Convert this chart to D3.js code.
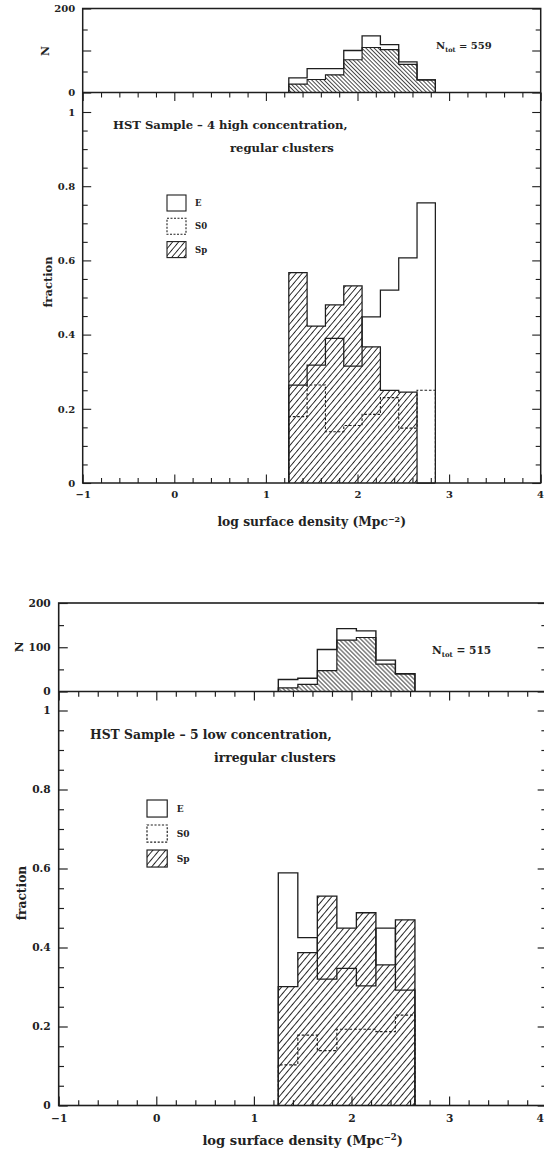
<!DOCTYPE html>
<html>
<head>
<meta charset="utf-8">
<script src="https://cdn.jsdelivr.net/npm/d3@7"></script>
<style>
  html, body { margin: 0; padding: 0; background: #fff; }
  svg { display: block; }
  text { font-family: "DejaVu Serif", serif; font-weight: bold; fill: #222; }
</style>
</head>
<body>
<svg id="chart" width="544" height="1152"></svg>
<script>
// ---------- data ----------
// shared tick values
const xMajorTicks = [-1, 0, 1, 2, 3, 4];
const fractionTicks = [0, 0.2, 0.4, 0.6, 0.8, 1];
const nMajorTicks = [0, 100, 200];
const nMinorTicks = [50, 150];
const legendLabels = ["E", "S0", "Sp"];

// Sample 4: high concentration, regular clusters (bin edges in log surface density)
const highEdges = [1.25, 1.45, 1.65, 1.85, 2.05, 2.25, 2.45, 2.65, 2.85];
const highTotalN = [35, 57, 57, 100, 135, 114, 73, 30];
const highHatchN = [20, 31, 42, 78, 107, 102, 67, 30];
const highE  = [0.264, 0.318, 0.390, 0.315, 0.448, 0.520, 0.607, 0.755];
const highS0 = [0.179, 0.264, 0.138, 0.155, 0.185, 0.230, 0.148, 0.250];
const highSp = [0.567, 0.423, 0.480, 0.531, 0.367, 0.250, 0.245, 0];
const highTitle = ["HST Sample \u2013 4 high concentration,", "regular clusters"];
const highNtot = 559;

// Sample 5: low concentration, irregular clusters
const lowEdges = [1.25, 1.45, 1.65, 1.85, 2.05, 2.25, 2.45, 2.65];
const lowTotalN = [27, 30, 95, 142, 137, 71, 40];
const lowHatchN = [8, 16, 47, 116, 122, 62, 40];
const lowE  = [0.589, 0.425, 0.320, 0.347, 0.303, 0.449, 0.292];
const lowS0 = [0.103, 0.178, 0.139, 0.193, 0.193, 0.187, 0.229];
const lowSp = [0.301, 0.387, 0.530, 0.449, 0.488, 0.356, 0.470];
const lowTitle = ["HST Sample \u2013 5 low concentration,", "irregular clusters"];
const lowNtot = 515;

// ---------- drawing ----------
const INK = "#1e1e1e";
const svg = d3.select("#chart");
const defs = svg.append("defs");

function hatchPattern(id, angle, gap, width) {
  const p = defs.append("pattern")
    .attr("id", id)
    .attr("patternUnits", "userSpaceOnUse")
    .attr("width", gap).attr("height", gap)
    .attr("patternTransform", `rotate(${angle})`);
  p.append("line")
    .attr("x1", gap / 2).attr("y1", -1).attr("x2", gap / 2).attr("y2", gap + 1)
    .attr("stroke", INK).attr("stroke-width", width);
}
hatchPattern("spHatchA", 40, 4.6, 0.9);
hatchPattern("nHatchA", -45, 2.9, 0.8);
hatchPattern("spHatchB", 40, 4.9, 0.95);
hatchPattern("nHatchB", -45, 3.1, 0.85);

// histogram outline: up from zero at first edge, steps across, down to zero at last edge
function stepPoints(edges, values) {
  const pts = [[edges[0], 0]];
  values.forEach((v, i) => { pts.push([edges[i], v]); pts.push([edges[i + 1], v]); });
  pts.push([edges[edges.length - 1], 0]);
  return pts;
}

function minorRange(lo, hi, step, skipEvery) {
  const out = [];
  const n = Math.round((hi - lo) / step);
  for (let i = 0; i <= n; i++) {
    if (i % skipEvery !== 0) out.push(+(lo + i * step).toFixed(4));
  }
  return out;
}

function drawPanel(L, D) {
  const k = L.k;
  const x = d3.scaleLinear().domain([-1, 4]).range(L.xRange);
  const fy = d3.scaleLinear().domain([0, 1]).range(L.fRange);
  const ny = d3.scaleLinear().domain([0, 200]).range(L.nRange);
  const g = svg.append("g");

  const xMinor = minorRange(-1, 4, 0.2, 5);
  const fMinor = minorRange(0, 1, 0.05, 4).concat([1.05]).filter(v => fy(v) > ny(0) + 1);
  const majorLen = 8.5 * k, minorLen = 5 * k;

  // ----- N panel -----
  const nLine = d3.line().x(d => x(d[0])).y(d => ny(d[1]));
  g.append("path")
    .attr("d", nLine(stepPoints(D.edges, D.hatchN)))
    .attr("fill", `url(#${L.nHatch})`).attr("stroke", INK).attr("stroke-width", 1.1 * k);
  g.append("path")
    .attr("d", nLine(stepPoints(D.edges, D.totalN)))
    .attr("fill", "none").attr("stroke", INK).attr("stroke-width", 1.3 * k);

  // ----- fraction panel -----
  const fLine = d3.line().x(d => x(d[0])).y(d => fy(d[1]));
  g.append("path")
    .attr("d", fLine(stepPoints(D.edges, D.sp)))
    .attr("fill", `url(#${L.fHatch})`).attr("stroke", INK).attr("stroke-width", 1.25 * k);
  g.append("path")
    .attr("d", fLine(stepPoints(D.edges, D.e)))
    .attr("fill", "none").attr("stroke", INK).attr("stroke-width", 1.25 * k);
  g.append("path")
    .attr("d", fLine(stepPoints(D.edges, D.s0)))
    .attr("fill", "none").attr("stroke", INK).attr("stroke-width", 1.1 * k)
    .attr("stroke-dasharray", `${2.6 * k},${1.8 * k}`);

  // ----- axes -----
  const styleAxis = sel => {
    sel.select(".domain").remove();
    sel.attr("font-family", null).attr("font-size", null).attr("color", INK);
    sel.selectAll(".tick line").attr("stroke-width", 1.1 * k);
    sel.selectAll("text").attr("font-size", 10 * k);
  };
  const addAxis = (axis, tx, ty) =>
    g.append("g").attr("transform", `translate(${tx},${ty})`).call(axis).call(styleAxis);

  // bottom x axis of fraction panel (integer labels; the last one kept inside the page)
  const xAx = addAxis(d3.axisBottom(x).tickValues(xMajorTicks).tickSizeInner(-majorLen).tickSizeOuter(0)
    .tickPadding(8 * k).tickFormat(d3.format("d")), 0, fy(0));
  xAx.selectAll(".tick text").filter(d => d === 4)
    .attr("text-anchor", "end").attr("x", 544 - x(4) - 0.5);
  addAxis(d3.axisBottom(x).tickValues(xMinor).tickSizeInner(-minorLen).tickSizeOuter(0)
    .tickFormat(""), 0, fy(0));
  // top of fraction panel (shared line with N panel)
  addAxis(d3.axisTop(x).tickValues(xMajorTicks).tickSizeInner(-majorLen).tickSizeOuter(0)
    .tickFormat(""), 0, ny(0));
  addAxis(d3.axisTop(x).tickValues(xMinor).tickSizeInner(-minorLen).tickSizeOuter(0)
    .tickFormat(""), 0, ny(0));

  // fraction y axis, left and right
  addAxis(d3.axisLeft(fy).tickValues(fractionTicks).tickSizeInner(-majorLen).tickSizeOuter(0)
    .tickPadding(7.5 * k).tickFormat(d => d === 0 || d === 1 ? d3.format("d")(d) : d3.format(".1f")(d)),
    L.xRange[0], 0);
  addAxis(d3.axisLeft(fy).tickValues(fMinor).tickSizeInner(-minorLen).tickSizeOuter(0)
    .tickFormat(""), L.xRange[0], 0);
  addAxis(d3.axisRight(fy).tickValues(fractionTicks).tickSizeInner(-majorLen).tickSizeOuter(0)
    .tickFormat(""), L.xRange[1], 0);
  addAxis(d3.axisRight(fy).tickValues(fMinor).tickSizeInner(-minorLen).tickSizeOuter(0)
    .tickFormat(""), L.xRange[1], 0);

  // N y axis, left and right
  addAxis(d3.axisLeft(ny).tickValues(nMajorTicks).tickSizeInner(-majorLen).tickSizeOuter(0)
    .tickPadding(7.5 * k).tickFormat(d => L.nLabels.includes(d) ? d : ""), L.xRange[0], 0);
  addAxis(d3.axisLeft(ny).tickValues(nMinorTicks).tickSizeInner(-minorLen).tickSizeOuter(0)
    .tickFormat(""), L.xRange[0], 0);
  addAxis(d3.axisRight(ny).tickValues(nMajorTicks).tickSizeInner(-majorLen).tickSizeOuter(0)
    .tickFormat(""), L.xRange[1], 0);
  addAxis(d3.axisRight(ny).tickValues(nMinorTicks).tickSizeInner(-minorLen).tickSizeOuter(0)
    .tickFormat(""), L.xRange[1], 0);

  // frame
  g.append("rect")
    .attr("x", L.xRange[0]).attr("y", ny(200))
    .attr("width", L.xRange[1] - L.xRange[0]).attr("height", fy(0) - ny(200))
    .attr("fill", "none").attr("stroke", INK).attr("stroke-width", 1.5 * k);
  g.append("line")
    .attr("x1", L.xRange[0]).attr("x2", L.xRange[1]).attr("y1", ny(0)).attr("y2", ny(0))
    .attr("stroke", INK).attr("stroke-width", 1.5 * k);

  // axis titles
  g.append("text").attr("transform", `translate(${L.nTitle[0]},${L.nTitle[1]}) rotate(-90)`)
    .attr("text-anchor", "middle").attr("dy", "0.35em").attr("font-size", 11 * k).text("N");
  g.append("text").attr("transform", `translate(${L.fTitle[0]},${L.fTitle[1]}) rotate(-90)`)
    .attr("text-anchor", "middle").attr("dy", "0.35em").attr("font-size", 11.5 * k).text("fraction");
  const xt = g.append("text")
    .attr("x", (L.xRange[0] + L.xRange[1]) / 2).attr("y", L.xTitleY)
    .attr("text-anchor", "middle").attr("font-size", 12.3 * k);
  xt.append("tspan").text("log surface density (Mpc");
  xt.append("tspan").attr("font-size", 8 * k).attr("dy", -4.5 * k).text("\u22122");
  xt.append("tspan").attr("dy", 4.5 * k).text(")");

  // N total
  const nt = g.append("text").attr("x", L.ntot[0]).attr("y", L.ntot[1]).attr("font-size", 10 * k);
  nt.append("tspan").text("N");
  nt.append("tspan").attr("font-size", 6.5 * k).attr("dy", 2.5 * k).text("tot");
  nt.append("tspan").attr("dy", -2.5 * k).text(" = " + D.nTot);

  // sample title
  D.title.forEach((t, i) => {
    g.append("text").attr("x", L.titlePos[i][0]).attr("y", L.titlePos[i][1])
      .attr("font-size", 11.6 * k).text(t);
  });

  // legend
  const lg = g.append("g").attr("transform", `translate(${L.legend[0]},${L.legend[1]})`);
  const fills = ["none", "none", `url(#${L.fHatch})`];
  const dashes = [null, `${2 * k},${1.5 * k}`, null];
  legendLabels.forEach((lab, i) => {
    const yy = i * L.legendStep;
    lg.append("rect").attr("x", 0).attr("y", yy).attr("width", 19 * k).attr("height", 16 * k)
      .attr("fill", fills[i]).attr("stroke", INK).attr("stroke-width", 1.1 * k)
      .attr("stroke-dasharray", dashes[i]);
    lg.append("text").attr("x", 28 * k).attr("y", yy + 8 * k).attr("dy", "0.35em")
      .attr("font-size", 8.5 * k).text(lab);
  });
}

drawPanel({
  k: 1,
  xRange: [82.7, 540.7], fRange: [483, 112], nRange: [92.5, 8.5],
  nHatch: "nHatchA", fHatch: "spHatchA",
  nLabels: [0, 200],
  nTitle: [45, 51], fTitle: [48, 282], xTitleY: 526,
  ntot: [436, 49],
  titlePos: [[113, 129], [230, 152]],
  legend: [167, 195], legendStep: 23.3
}, {
  edges: highEdges, totalN: highTotalN, hatchN: highHatchN,
  e: highE, s0: highS0, sp: highSp, title: highTitle, nTot: highNtot
});

drawPanel({
  k: 1.065,
  xRange: [58.7, 546.7], fRange: [1105.5, 710.5], nRange: [691.5, 603],
  nHatch: "nHatchB", fHatch: "spHatchB",
  nLabels: [0, 100, 200],
  nTitle: [19, 647], fTitle: [22, 893], xTitleY: 1145,
  ntot: [432, 654],
  titlePos: [[90, 739], [214, 762]],
  legend: [147, 800], legendStep: 25
}, {
  edges: lowEdges, totalN: lowTotalN, hatchN: lowHatchN,
  e: lowE, s0: lowS0, sp: lowSp, title: lowTitle, nTot: lowNtot
});
</script>
</body>
</html>
